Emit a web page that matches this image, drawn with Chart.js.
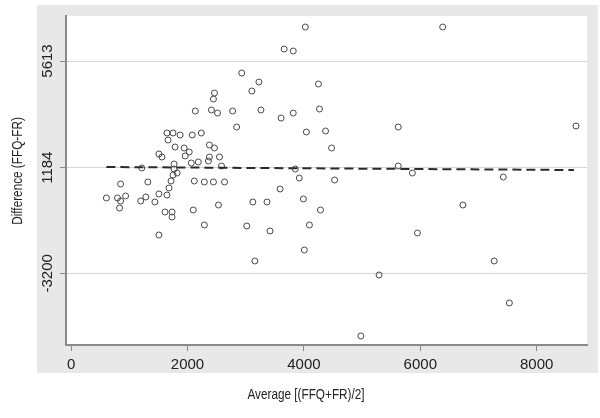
<!DOCTYPE html>
<html>
<head>
<meta charset="utf-8">
<script src="https://cdn.jsdelivr.net/npm/chart.js@4.4.1/dist/chart.umd.min.js"></script>
<style>
  html, body { margin: 0; padding: 0; background: #fff; }
  #wrap { width: 600px; height: 418px; }
</style>
</head>
<body>
<div id="wrap"><canvas id="blandAltman" width="600" height="418"></canvas></div>
<script>
// Bland-Altman: FFQ vs FR
const avgValues = [
  4025, 6385, 3661, 3817, 2932, 3227, 3106, 4251, 2464, 2446,
  2134, 2412, 2516, 2776, 3262, 3609, 3817, 4268, 2845, 4043,
  4372, 5621, 8675, 1648, 1752, 1874, 2082, 2238, 1666, 1787,
  1943, 2030, 1961, 2377, 2464, 1509, 1562, 2065, 2186, 2360,
  2377, 2550, 1215, 1770, 1770, 1822, 1752, 2585, 4476, 3852,
  3921, 4528, 5621, 5864, 7426, 850, 1319, 1718, 1683, 2117,
  2290, 2446, 2637, 3591, 607, 798, 850, 937, 833, 1197,
  1284, 1440, 1509, 1648, 1614, 1735, 1735, 2099, 2290, 2533,
  3123, 3366, 3991, 4285, 3019, 3418, 4095, 4008, 3158, 1509,
  6732, 5951, 5292, 7270, 7530, 4979
];
const diffValues = [
  7023, 7023, 6110, 6027, 5114, 4741, 4367, 4658, 4284, 4035,
  3537, 3579, 3454, 3537, 3579, 3247, 3454, 3620, 2873, 2666,
  2707, 2873, 2915, 2624, 2624, 2541, 2541, 2624, 2334, 2043,
  2002, 1836, 1670, 2126, 2002, 1753, 1628, 1379, 1421, 1462,
  1628, 1628, 1172, 1338, 1130, 964, 881, 1255, 2002, 1130,
  757, 674, 1255, 964, 798, 508, 591, 632, 342, 632,
  591, 591, 591, 300, -73, -73, -198, 10, -488, -198,
  -32, -239, 93, 51, -654, -654, -862, -571, -1194, -364,
  -239, -239, -115, -571, -1235, -1443, -1194, -2231, -2688, -1609,
  -364, -1526, -3269, -2688, -4431, -5800
];
// fitted line of difference on average
const fitX = [607, 8640];
const fitY = [1213, 1088];

const xTicks = [0, 2000, 4000, 6000, 8000];
const yTicks = [-3200, 1184, 5613];

const framePlugin = {
    id: 'frame',
    beforeDraw: (chart) => {
        const ctx = chart.ctx;
        const a = chart.chartArea;
        ctx.save();
        ctx.fillStyle = '#ffffff';
        ctx.fillRect(0, 0, chart.width, chart.height);
        ctx.fillStyle = '#e8e8e8';
        ctx.fillRect(37, 5, 561, 368);
        ctx.fillStyle = '#ffffff';
        ctx.fillRect(a.left, a.top, a.right - a.left, a.bottom - a.top);
        ctx.restore();
    },
    afterDraw: (chart) => {
        const ctx = chart.ctx;
        const ys = chart.scales.y;
        ctx.save();
        ctx.fillStyle = '#222';
        ctx.textAlign = 'center';
        ctx.textBaseline = 'middle';
        // y tick labels, rotated
        ctx.font = '15px "Liberation Sans", Arial, sans-serif';
        yTicks.forEach(v => {
            ctx.save();
            ctx.translate(48, ys.getPixelForValue(v));
            ctx.rotate(-Math.PI / 2);
            ctx.fillText(String(v), 0, 0);
            ctx.restore();
        });
        // axis titles (narrow look)
        ctx.font = '14px "Liberation Sans", Arial, sans-serif';
        ctx.save();
        ctx.translate(18, 171);
        ctx.rotate(-Math.PI / 2);
        ctx.scale(0.84, 1);
        ctx.fillText('Difference (FFQ-FR)', 0, 0);
        ctx.restore();
        ctx.save();
        ctx.translate(306, 395);
        ctx.scale(0.84, 1);
        ctx.fillText('Average [(FFQ+FR)/2]', 0, 0);
        ctx.restore();
        ctx.restore();
    }
};

new Chart(document.getElementById('blandAltman').getContext('2d'), {
    type: 'scatter',
    data: {
        datasets: [
            {
                label: 'fit',
                type: 'line',
                showLine: true,
                data: fitX.map((x, i) => ({ x: x, y: fitY[i] })),
                borderColor: '#2a2a2a',
                borderWidth: 2,
                borderDash: [9, 5],
                pointRadius: 0,
                fill: false
            },
            {
                label: 'points',
                data: avgValues.map((x, i) => ({ x: x, y: diffValues[i] })),
                pointRadius: 3,
                pointBorderWidth: 1,
                pointBorderColor: '#4a4a4a',
                pointBackgroundColor: 'rgba(0,0,0,0)'
            }
        ]
    },
    options: {
        responsive: false,
        animation: false,
        events: [],
        layout: { padding: { left: 0, top: 16, right: 13, bottom: 0 } },
        plugins: {
            legend: { display: false },
            tooltip: { enabled: false }
        },
        scales: {
            x: {
                type: 'linear',
                min: -87,
                max: 8864,
                afterBuildTicks: (s) => { s.ticks = xTicks.map(v => ({ value: v })); },
                afterFit: (s) => { s.height = 73; },
                border: { color: '#8a8a8a', width: 2 },
                grid: { drawOnChartArea: false, drawTicks: true, tickLength: 6, tickColor: '#8a8a8a', tickWidth: 1 },
                ticks: {
                    color: '#222',
                    padding: 5,
                    maxRotation: 0,
                    callback: (v) => String(v),
                    font: { family: '"Liberation Sans", Arial, sans-serif', size: 15 }
                }
            },
            y: {
                type: 'linear',
                min: -6175,
                max: 7481,
                afterBuildTicks: (s) => { s.ticks = yTicks.map(v => ({ value: v })); },
                afterFit: (s) => { s.width = 66; },
                border: { color: '#8a8a8a', width: 2 },
                grid: { color: '#d4d4d4', lineWidth: 1, drawTicks: true, tickLength: 6, tickColor: '#8a8a8a', tickWidth: 1 },
                ticks: { display: false }
            }
        }
    },
    plugins: [framePlugin]
});
</script>
</body>
</html>
